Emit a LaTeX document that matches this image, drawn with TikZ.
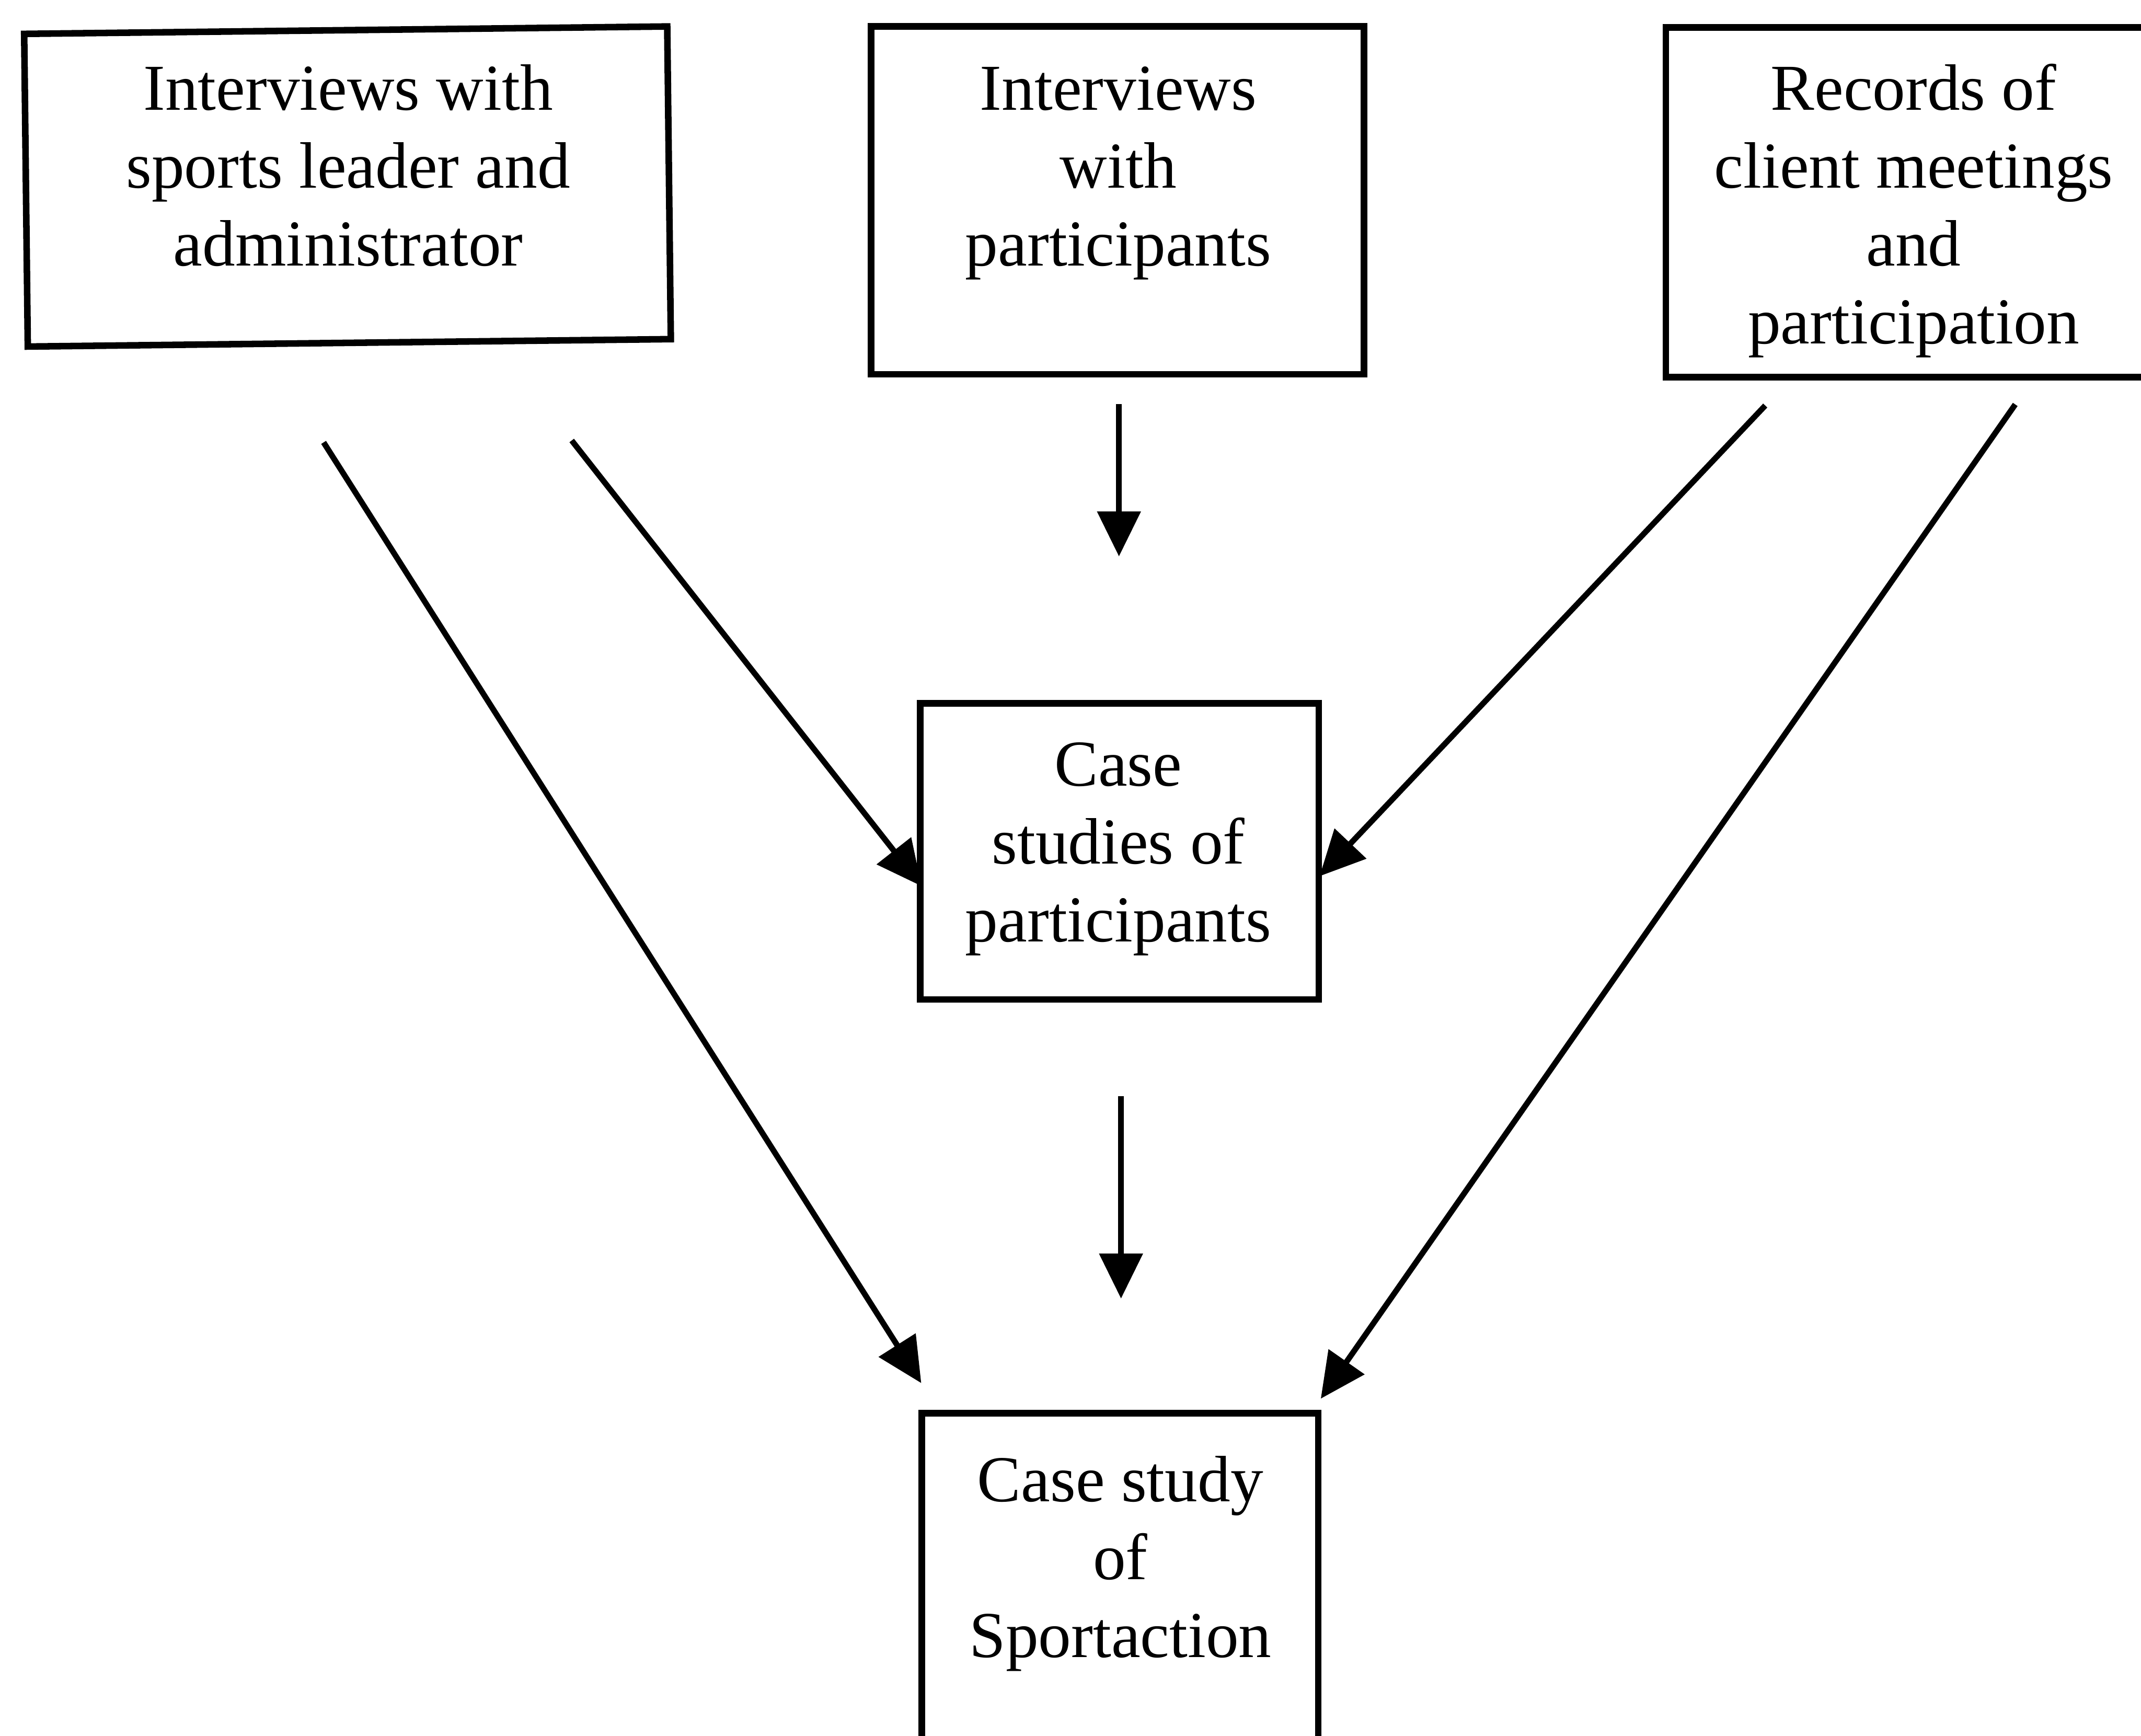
\documentclass[tikz,border=0pt]{standalone}
\usepackage{fontspec}
\setmainfont{Liberation Serif}
\usetikzlibrary{arrows.meta}
\begin{document}
\begin{tikzpicture}[x=0.25pt,y=-0.25pt,
  box/.style={draw, line width=1.2pt, rectangle, inner sep=0pt},
  txt/.style={align=center, anchor=north, inner sep=0pt,
              font=\fontsize{12}{14.25}\selectfont},
  flow/.style={line width=1.05pt, -{Triangle[length=8.25pt,width=7.8pt]}}]
  \clip (0,0) rectangle (1568,1271);
  \fill[white] (0,0) rectangle (1568,1271);

  % boxes
  \node[box, rotate=0.66, minimum width=117.75pt, minimum height=57.25pt] (b1) at (254.5,136.6) {};
  \node[box, minimum width=90.25pt, minimum height=63.7pt] (b2) at (818.5,146.7) {};
  \node[box, minimum width=100pt, minimum height=64pt] (b3) at (1420,148.2) {};
  \node[box, minimum width=72.95pt, minimum height=54.25pt] (b4) at (819.9,623.5) {};
  \node[box, minimum width=72.6pt, minimum height=64pt] (b5) at (820.2,1163) {};

  % texts
  \node[txt] (t1) at (255,40) {\strut Interviews with\\sports leader and\\administrator};
  \node[txt] (t2) at (819,40) {\strut Interviews\\with\\participants};
  \node[txt] (t3) at (1401.5,40) {\strut Records of\\client meetings\\and\\participation};
  \node[txt] (t4) at (819,535) {\strut Case\\studies of\\participants};
  \node[txt] (t5) at (820.5,1059) {\strut Case study\\of\\Sportaction};

  % connector ends
  \coordinate (s1) at (237,324);      \coordinate (e1) at (674.7,1012.9);
  \coordinate (s2) at (418.7,322.6);  \coordinate (e2) at (675,649);
  \coordinate (s3) at (819.5,296);    \coordinate (e3) at (819.5,407.5);
  \coordinate (s4) at (1292.8,297);   \coordinate (e4) at (966.4,641.7);
  \coordinate (s5) at (1475.9,296.2); \coordinate (e5) at (967.3,1024.3);
  \coordinate (s6) at (821,802.6);    \coordinate (e6) at (821,951);

  % connectors
  \draw[flow] (s1) -- (e1);
  \draw[flow] (s2) -- (e2);
  \draw[flow] (s3) -- (e3);
  \draw[flow] (s4) -- (e4);
  \draw[flow] (s5) -- (e5);
  \draw[flow] (s6) -- (e6);
\end{tikzpicture}
\end{document}
